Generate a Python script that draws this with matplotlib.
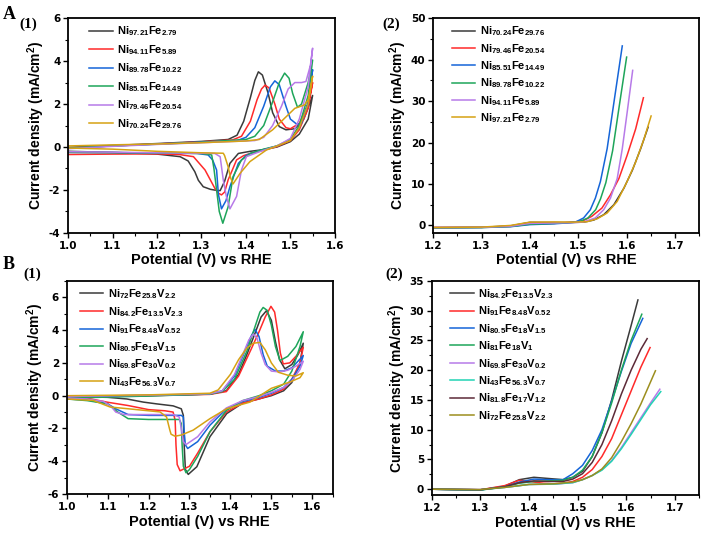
import matplotlib
matplotlib.use("Agg")
import matplotlib.pyplot as plt
from matplotlib.ticker import MultipleLocator

plt.rcParams['font.family'] = ['Liberation Sans', 'DejaVu Sans']
plt.rcParams['font.weight'] = 'bold'
plt.rcParams['mathtext.fontset'] = 'custom'
plt.rcParams['mathtext.rm'] = 'Liberation Sans:bold'
plt.rcParams['mathtext.it'] = 'Liberation Sans:bold'
plt.rcParams['mathtext.bf'] = 'Liberation Sans:bold'
plt.rcParams['mathtext.default'] = 'rm'
plt.rcParams['axes.unicode_minus'] = False

BLACK = '#3a3a3a'; RED = '#ff2a2a'; BLUE = '#1565d8'; GREEN = '#1ea55a'
PURPLE = '#b77ae8'; GOLD = '#d6a214'; CYAN = '#22d3b4'; BROWN = '#5c2a38'; OLIVE = '#9c8e1e'

# ---------------- Panel A(1): CV of NiFe ----------------
a1_labels = ['Ni$_{97.21}$Fe$_{2.79}$', 'Ni$_{94.11}$Fe$_{5.89}$', 'Ni$_{89.78}$Fe$_{10.22}$',
             'Ni$_{85.51}$Fe$_{14.49}$', 'Ni$_{79.46}$Fe$_{20.54}$', 'Ni$_{70.24}$Fe$_{29.76}$']
a1_colors = [BLACK, RED, BLUE, GREEN, PURPLE, GOLD]

a1_black_x = [1.00, 1.10, 1.20, 1.30, 1.36, 1.38, 1.395, 1.41, 1.42, 1.428, 1.437, 1.45, 1.46, 1.475, 1.49, 1.51, 1.53, 1.55,
              1.54, 1.52, 1.50, 1.47, 1.44, 1.41, 1.383, 1.364, 1.352, 1.342, 1.334, 1.32, 1.304, 1.293, 1.285, 1.27, 1.252, 1.20, 1.10, 1.00]
a1_black_y = [-0.02, 0.07, 0.16, 0.26, 0.35, 0.55, 1.2, 2.3, 3.1, 3.5, 3.35, 2.5, 1.6, 0.95, 0.8, 0.85, 1.3, 2.4,
              1.3, 0.6, 0.25, 0.0, -0.12, -0.2, -0.3, -0.76, -1.6, -2.03, -2.02, -1.97, -1.85, -1.55, -1.15, -0.65, -0.45, -0.33, -0.25, -0.2]

a1_red_x = [1.00, 1.10, 1.20, 1.30, 1.37, 1.39, 1.41, 1.425, 1.435, 1.443, 1.452, 1.465, 1.475, 1.49, 1.50, 1.52, 1.54, 1.55,
            1.54, 1.52, 1.50, 1.47, 1.44, 1.41, 1.395, 1.379, 1.36, 1.352, 1.345, 1.338, 1.33, 1.308, 1.282, 1.25, 1.20, 1.10, 1.00]
a1_red_y = [-0.05, 0.05, 0.14, 0.24, 0.33, 0.5, 1.2, 2.2, 2.7, 2.88, 2.75, 2.0, 1.3, 0.9, 0.85, 1.1, 2.0, 3.0,
            1.8, 0.8, 0.3, 0.02, -0.15, -0.3, -0.4, -0.6, -1.53, -2.1, -2.23, -2.15, -1.92, -1.07, -0.45, -0.35, -0.32, -0.33, -0.35]

a1_blue_x = [1.00, 1.10, 1.20, 1.30, 1.38, 1.40, 1.42, 1.44, 1.455, 1.465, 1.475, 1.49, 1.50, 1.515, 1.525, 1.54, 1.55,
             1.54, 1.52, 1.50, 1.47, 1.44, 1.41, 1.40, 1.383, 1.364, 1.355, 1.345, 1.338, 1.334, 1.325, 1.315, 1.29, 1.20, 1.10, 1.00]
a1_blue_y = [-0.05, 0.05, 0.14, 0.23, 0.3, 0.45, 0.9, 1.9, 2.8, 3.08, 2.9, 1.9, 1.3, 1.05, 1.1, 2.1, 3.6,
             2.0, 0.9, 0.35, 0.05, -0.12, -0.3, -0.4, -0.76, -1.85, -2.5, -2.88, -2.2, -1.07, -0.6, -0.37, -0.3, -0.28, -0.26, -0.25]

a1_green_x = [1.00, 1.10, 1.20, 1.30, 1.40, 1.42, 1.44, 1.46, 1.475, 1.487, 1.497, 1.505, 1.516, 1.525, 1.54, 1.55,
              1.54, 1.52, 1.50, 1.47, 1.44, 1.41, 1.39, 1.371, 1.36, 1.348, 1.34, 1.334, 1.328, 1.323, 1.30, 1.20, 1.10, 1.00]
a1_green_y = [-0.05, 0.05, 0.13, 0.22, 0.35, 0.5, 1.0, 2.1, 3.0, 3.44, 3.2, 2.5, 1.85, 2.0, 3.0, 4.05,
              2.4, 1.0, 0.35, 0.05, -0.1, -0.3, -0.6, -1.38, -2.78, -3.55, -3.0, -2.0, -1.0, -0.37, -0.3, -0.28, -0.26, -0.25]

a1_purple_x = [1.00, 1.10, 1.20, 1.30, 1.42, 1.44, 1.46, 1.48, 1.495, 1.51, 1.525, 1.535, 1.545, 1.55,
               1.54, 1.52, 1.50, 1.47, 1.44, 1.42, 1.401, 1.39, 1.379, 1.364, 1.356, 1.349, 1.342, 1.33, 1.20, 1.10, 1.00]
a1_purple_y = [-0.08, 0.03, 0.12, 0.2, 0.3, 0.45, 1.0, 1.9, 2.7, 3.0, 3.0, 3.05, 3.8, 4.6,
               2.8, 1.3, 0.4, 0.05, -0.15, -0.3, -0.45, -1.07, -2.3, -2.88, -2.3, -1.53, -0.45, -0.3, -0.27, -0.24, -0.22]

a1_gold_x = [1.00, 1.10, 1.20, 1.30, 1.40, 1.43, 1.46, 1.49, 1.51, 1.532, 1.54, 1.55,
             1.54, 1.52, 1.50, 1.47, 1.446, 1.409, 1.387, 1.371, 1.365, 1.36, 1.352, 1.349, 1.30, 1.20, 1.10, 1.00]
a1_gold_y = [0.05, 0.1, 0.14, 0.2, 0.28, 0.35, 0.8, 1.4, 1.8, 1.96, 2.2, 3.3,
             2.0, 0.9, 0.3, 0.05, -0.14, -0.68, -1.22, -1.72, -1.4, -0.92, -0.4, -0.29, -0.27, -0.2, -0.1, -0.05]

a1_x = [a1_black_x, a1_red_x, a1_blue_x, a1_green_x, a1_purple_x, a1_gold_x]
a1_y = [a1_black_y, a1_red_y, a1_blue_y, a1_green_y, a1_purple_y, a1_gold_y]

# ---------------- Panel A(2): LSV of NiFe ----------------
a2_labels = ['Ni$_{70.24}$Fe$_{29.76}$', 'Ni$_{79.46}$Fe$_{20.54}$', 'Ni$_{85.51}$Fe$_{14.49}$',
             'Ni$_{89.78}$Fe$_{10.22}$', 'Ni$_{94.11}$Fe$_{5.89}$', 'Ni$_{97.21}$Fe$_{2.79}$']
a2_colors = [BLACK, RED, BLUE, GREEN, PURPLE, GOLD]
a2_black_x = [1.20, 1.30, 1.36, 1.40, 1.44, 1.48, 1.511, 1.532, 1.5527, 1.5736, 1.5944, 1.6118, 1.629, 1.6444]
a2_black_y = [-0.5, -0.45, -0.1, 0.75, 0.7, 0.7, 0.8, 1.3, 2.6, 5.0, 9.0, 13.3, 18.5, 23.7]
a2_red_x = [1.20, 1.30, 1.36, 1.40, 1.45, 1.49, 1.511, 1.528, 1.549, 1.5666, 1.584, 1.601, 1.6187, 1.6347]
a2_red_y = [-0.5, -0.45, -0.2, 0.4, 0.5, 0.8, 1.2, 2.2, 4.2, 7.4, 11.3, 16.9, 23.3, 30.8]
a2_blue_x = [1.20, 1.30, 1.36, 1.40, 1.45, 1.475, 1.494, 1.511, 1.525, 1.5354, 1.5458, 1.5597, 1.5754, 1.591]
a2_blue_y = [-0.6, -0.5, -0.3, 0.2, 0.4, 0.6, 0.8, 1.8, 3.8, 6.6, 10.6, 18.5, 31.0, 43.3]
a2_green_x = [1.20, 1.30, 1.36, 1.40, 1.45, 1.48, 1.50, 1.52, 1.536, 1.546, 1.557, 1.571, 1.585, 1.600]
a2_green_y = [-0.55, -0.5, -0.25, 0.3, 0.5, 0.7, 0.8, 1.8, 3.8, 6.4, 10.3, 18.0, 29.0, 40.6]
a2_purple_x = [1.20, 1.30, 1.36, 1.40, 1.45, 1.49, 1.51, 1.535, 1.5527, 1.5666, 1.5805, 1.591, 1.601, 1.6125]
a2_purple_y = [-0.5, -0.45, -0.2, 0.5, 0.6, 0.7, 0.8, 1.8, 3.8, 6.6, 11.3, 18.5, 27.2, 37.4]
a2_gold_x = [1.20, 1.30, 1.36, 1.40, 1.45, 1.49, 1.518, 1.539, 1.5597, 1.5805, 1.601, 1.6187, 1.636, 1.6506]
a2_gold_y = [-0.5, -0.4, 0.0, 0.8, 0.85, 0.8, 0.9, 1.6, 3.0, 5.8, 10.6, 15.3, 20.9, 26.4]
a2_x = [a2_black_x, a2_red_x, a2_blue_x, a2_green_x, a2_purple_x, a2_gold_x]
a2_y = [a2_black_y, a2_red_y, a2_blue_y, a2_green_y, a2_purple_y, a2_gold_y]

# ---------------- Panel B(1): CV of NiFeV ----------------
b1_labels = ['Ni$_{72}$Fe$_{25.8}$V$_{2.2}$', 'Ni$_{84.2}$Fe$_{13.5}$V$_{2.3}$', 'Ni$_{91}$Fe$_{8.48}$V$_{0.52}$',
             'Ni$_{80.5}$Fe$_{18}$V$_{1.5}$', 'Ni$_{69.8}$Fe$_{30}$V$_{0.2}$', 'Ni$_{43}$Fe$_{56.3}$V$_{0.7}$']
b1_colors = [BLACK, RED, BLUE, GREEN, PURPLE, GOLD]

b1_black_x = [1.00, 1.20, 1.35, 1.39, 1.42, 1.44, 1.46, 1.475, 1.488, 1.50, 1.51, 1.52, 1.533, 1.55, 1.565, 1.578,
              1.57, 1.55, 1.53, 1.50, 1.472, 1.43, 1.391, 1.35, 1.318, 1.297, 1.29, 1.287, 1.285, 1.28, 1.26, 1.22, 1.187, 1.147, 1.10, 1.00]
b1_black_y = [-0.05, 0.02, 0.1, 0.3, 1.3, 2.5, 3.8, 4.8, 5.18, 4.6, 3.3, 2.2, 1.64, 1.9, 2.5, 3.2,
              2.0, 0.8, 0.3, 0.0, -0.18, -0.45, -1.09, -2.5, -4.33, -4.8, -4.5, -3.0, -1.2, -0.8, -0.62, -0.5, -0.39, -0.2, -0.1, -0.05]

b1_red_x = [1.00, 1.20, 1.35, 1.39, 1.42, 1.45, 1.47, 1.485, 1.499, 1.508, 1.515, 1.522, 1.529, 1.545, 1.56, 1.578,
            1.57, 1.55, 1.53, 1.50, 1.47, 1.43, 1.39, 1.35, 1.32, 1.30, 1.277, 1.27, 1.267, 1.265, 1.26, 1.24, 1.20, 1.15, 1.10, 1.05, 1.00]
b1_red_y = [-0.1, 0.0, 0.08, 0.25, 1.2, 2.8, 3.9, 4.8, 5.45, 5.1, 4.0, 2.6, 1.94, 2.0, 2.4, 2.95,
            2.0, 1.0, 0.4, 0.05, -0.2, -0.45, -1.0, -2.2, -3.5, -4.3, -4.58, -4.2, -3.0, -1.5, -1.0, -0.92, -0.85, -0.6, -0.4, -0.15, -0.1]

b1_blue_x = [1.00, 1.20, 1.35, 1.38, 1.41, 1.43, 1.45, 1.46, 1.47, 1.48, 1.49, 1.51, 1.53, 1.55, 1.565, 1.578,
             1.57, 1.55, 1.53, 1.50, 1.47, 1.43, 1.39, 1.35, 1.32, 1.2956, 1.29, 1.287, 1.285, 1.28, 1.25, 1.20, 1.15, 1.12, 1.10, 1.05, 1.00]
b1_blue_y = [-0.1, 0.0, 0.1, 0.3, 1.2, 2.4, 3.6, 4.05, 3.6, 2.5, 1.8, 1.5, 1.5, 1.7, 2.1, 2.45,
             1.8, 1.0, 0.5, 0.15, -0.1, -0.35, -0.8, -1.8, -2.8, -3.22, -3.0, -2.2, -1.3, -1.2, -1.2, -1.2, -1.15, -0.8, -0.5, -0.25, -0.2]

b1_green_x = [1.00, 1.20, 1.35, 1.38, 1.41, 1.44, 1.46, 1.472, 1.48, 1.49, 1.50, 1.51, 1.521, 1.54, 1.56, 1.578,
              1.57, 1.55, 1.53, 1.50, 1.47, 1.43, 1.39, 1.35, 1.32, 1.30, 1.2915, 1.285, 1.282, 1.28, 1.275, 1.25, 1.20, 1.15, 1.125, 1.10, 1.05, 1.00]
b1_green_y = [-0.15, -0.02, 0.1, 0.25, 1.0, 2.7, 4.2, 5.1, 5.38, 5.2, 4.3, 3.0, 2.14, 2.4, 3.0, 3.9,
              3.0, 1.5, 0.7, 0.3, 0.0, -0.3, -0.9, -2.2, -3.7, -4.5, -4.7, -4.3, -3.0, -1.7, -1.45, -1.45, -1.45, -1.4, -1.0, -0.5, -0.3, -0.2]

b1_purple_x = [1.00, 1.20, 1.35, 1.38, 1.41, 1.43, 1.445, 1.456, 1.465, 1.475, 1.485, 1.50, 1.52, 1.54, 1.56, 1.578,
               1.57, 1.55, 1.53, 1.50, 1.47, 1.43, 1.39, 1.35, 1.32, 1.2915, 1.285, 1.28, 1.275, 1.26, 1.20, 1.14, 1.12, 1.11, 1.09, 1.05, 1.00]
b1_purple_y = [-0.05, 0.03, 0.12, 0.3, 1.3, 2.5, 3.4, 3.76, 3.5, 2.6, 1.9, 1.5, 1.45, 1.55, 1.8, 2.1,
               1.6, 0.9, 0.5, 0.2, -0.05, -0.3, -0.75, -1.6, -2.5, -2.98, -2.8, -2.0, -1.3, -1.15, -1.15, -1.15, -1.0, -0.7, -0.35, -0.2, -0.15]

b1_gold_x = [1.00, 1.20, 1.35, 1.37, 1.40, 1.42, 1.44, 1.456, 1.472, 1.485, 1.50, 1.517, 1.54, 1.56, 1.578,
             1.57, 1.545, 1.50, 1.448, 1.391, 1.35, 1.309, 1.28, 1.2646, 1.255, 1.252, 1.244, 1.228, 1.147, 1.106, 1.065, 1.00]
b1_gold_y = [0.0, 0.05, 0.15, 0.35, 1.3, 2.2, 2.9, 3.2, 3.25, 2.8, 2.0, 1.43, 1.25, 1.2, 1.4,
             1.1, 0.83, 0.45, -0.39, -0.79, -1.4, -2.1, -2.4, -2.47, -2.35, -2.1, -1.3, -0.99, -0.79, -0.69, -0.29, -0.2]

b1_x = [b1_black_x, b1_red_x, b1_blue_x, b1_green_x, b1_purple_x, b1_gold_x]
b1_y = [b1_black_y, b1_red_y, b1_blue_y, b1_green_y, b1_purple_y, b1_gold_y]

# ---------------- Panel B(2): LSV of NiFeV ----------------
b2_labels = ['Ni$_{84.2}$Fe$_{13.5}$V$_{2.3}$', 'Ni$_{91}$Fe$_{8.48}$V$_{0.52}$', 'Ni$_{80.5}$Fe$_{18}$V$_{1.5}$',
             'Ni$_{81}$Fe$_{18}$V$_{1}$', 'Ni$_{69.8}$Fe$_{30}$V$_{0.2}$', 'Ni$_{43}$Fe$_{56.3}$V$_{0.7}$',
             'Ni$_{81.8}$Fe$_{17}$V$_{1.2}$', 'Ni$_{72}$Fe$_{25.8}$V$_{2.2}$']
b2_colors = [BLACK, RED, BLUE, GREEN, PURPLE, CYAN, BROWN, OLIVE]
b2_black_x = [1.20, 1.30, 1.35, 1.38, 1.41, 1.44, 1.47, 1.49, 1.51, 1.53, 1.55, 1.57, 1.59, 1.61, 1.624]
b2_black_y = [0.0, -0.1, 0.5, 1.6, 2.0, 1.8, 1.6, 2.0, 3.0, 5.5, 9.5, 15.0, 21.5, 27.5, 31.8]
b2_red_x = [1.20, 1.30, 1.35, 1.38, 1.40, 1.43, 1.45, 1.47, 1.49, 1.51, 1.53, 1.55, 1.57, 1.59, 1.61, 1.63, 1.649]
b2_red_y = [0.0, -0.1, 0.6, 1.5, 1.3, 1.0, 0.9, 1.0, 1.3, 2.0, 3.3, 5.5, 8.5, 12.5, 16.5, 20.5, 23.8]
b2_blue_x = [1.20, 1.30, 1.35, 1.38, 1.41, 1.44, 1.47, 1.49, 1.51, 1.53, 1.55, 1.57, 1.59, 1.61, 1.634]
b2_blue_y = [0.0, -0.1, 0.4, 1.2, 1.7, 1.6, 1.6, 2.6, 4.0, 6.5, 10.0, 14.8, 19.8, 24.5, 28.7]
b2_green_x = [1.20, 1.30, 1.35, 1.38, 1.41, 1.44, 1.47, 1.49, 1.51, 1.53, 1.55, 1.57, 1.59, 1.61, 1.632]
b2_green_y = [0.0, -0.15, 0.4, 1.0, 1.3, 1.4, 1.5, 2.0, 3.2, 5.5, 9.5, 14.5, 20.0, 25.0, 29.4]
b2_purple_x = [1.20, 1.30, 1.35, 1.40, 1.45, 1.49, 1.51, 1.53, 1.55, 1.57, 1.59, 1.61, 1.63, 1.65, 1.669]
b2_purple_y = [0.0, -0.05, 0.3, 0.8, 0.85, 1.1, 1.6, 2.3, 3.3, 4.8, 7.0, 9.5, 12.0, 14.5, 16.8]
b2_cyan_x = [1.20, 1.30, 1.35, 1.40, 1.45, 1.49, 1.51, 1.53, 1.55, 1.57, 1.59, 1.61, 1.63, 1.65, 1.671]
b2_cyan_y = [0.0, -0.1, 0.3, 0.8, 0.85, 1.1, 1.6, 2.3, 3.2, 4.7, 6.8, 9.2, 11.7, 14.2, 16.4]
b2_brown_x = [1.20, 1.30, 1.35, 1.38, 1.41, 1.44, 1.47, 1.49, 1.51, 1.53, 1.55, 1.57, 1.59, 1.61, 1.63, 1.643]
b2_brown_y = [0.0, -0.1, 0.4, 1.1, 1.4, 1.3, 1.3, 1.7, 2.6, 4.5, 7.5, 11.5, 16.0, 20.0, 23.5, 25.3]
b2_olive_x = [1.20, 1.30, 1.35, 1.40, 1.45, 1.49, 1.51, 1.53, 1.55, 1.57, 1.59, 1.61, 1.63, 1.66]
b2_olive_y = [0.0, -0.05, 0.3, 0.8, 0.9, 1.2, 1.6, 2.3, 3.4, 5.3, 8.0, 11.0, 14.3, 19.9]
b2_x = [b2_black_x, b2_red_x, b2_blue_x, b2_green_x, b2_purple_x, b2_cyan_x, b2_brown_x, b2_olive_x]
b2_y = [b2_black_y, b2_red_y, b2_blue_y, b2_green_y, b2_purple_y, b2_cyan_y, b2_brown_y, b2_olive_y]

XLABEL = 'Potential (V) vs RHE'
YLABEL = 'Current density (mA/cm$^{2}$)'

fig = plt.figure(figsize=(7.02, 5.33), dpi=100)


def style(ax, xlim, ylim, xticks, ymaj, yfmt):
    ax.set_xlim(*xlim)
    ax.set_ylim(*ylim)
    ax.set_xticks(xticks)
    ax.set_xticklabels(['%.1f' % v for v in xticks])
    ax.xaxis.set_minor_locator(MultipleLocator(0.05))
    ax.yaxis.set_major_locator(MultipleLocator(ymaj))
    ax.yaxis.set_minor_locator(MultipleLocator(ymaj / 2))
    ax.yaxis.set_major_formatter(yfmt)
    for s in ax.spines.values():
        s.set_linewidth(1.3)
    ax.tick_params(which='major', direction='out', length=3.5, width=1.0, labelsize=7.5, pad=2)
    ax.tick_params(which='minor', direction='out', length=2, width=0.8)
    for lab in ax.get_xticklabels() + ax.get_yticklabels():
        lab.set_fontweight('bold')
        lab.set_family(['DejaVu Sans'])
    ax.set_xlabel(XLABEL, fontsize=10.5, fontweight='bold', labelpad=2)
    ax.set_ylabel(YLABEL, fontsize=10, fontweight='bold', labelpad=1)


def legend(ax, anchor, spacing):
    ax.legend(loc='upper left', bbox_to_anchor=anchor, frameon=False, fontsize=8,
              handlelength=2.1, handletextpad=0.4, labelspacing=spacing, borderpad=0, borderaxespad=0)


fmt_int = '{x:.0f}'

axA1 = fig.add_axes([0.097, 0.563, 0.380, 0.403])
for xs, ys, c, lab in zip(a1_x, a1_y, a1_colors, a1_labels):
    axA1.plot(xs, ys, color=c, lw=1.1, label=lab)
style(axA1, (1.0, 1.6), (-4, 6), [1.0, 1.1, 1.2, 1.3, 1.4, 1.5, 1.6], 2, fmt_int)
legend(axA1, (0.08, 0.97), 0.42)

axA2 = fig.add_axes([0.617, 0.563, 0.379, 0.403])
for xs, ys, c, lab in zip(a2_x, a2_y, a2_colors, a2_labels):
    axA2.plot(xs, ys, color=c, lw=1.1, label=lab)
style(axA2, (1.2, 1.75), (-1.8, 50), [1.2, 1.3, 1.4, 1.5, 1.6, 1.7], 10, fmt_int)
legend(axA2, (0.07, 0.97), 0.32)

axB1 = fig.add_axes([0.095, 0.073, 0.379, 0.400])
for xs, ys, c, lab in zip(b1_x, b1_y, b1_colors, b1_labels):
    axB1.plot(xs, ys, color=c, lw=1.1, label=lab)
style(axB1, (1.0, 1.65), (-6, 7), [1.0, 1.1, 1.2, 1.3, 1.4, 1.5, 1.6], 2, fmt_int)
legend(axB1, (0.05, 0.97), 0.34)

axB2 = fig.add_axes([0.615, 0.071, 0.381, 0.402])
for xs, ys, c, lab in zip(b2_x, b2_y, b2_colors, b2_labels):
    axB2.plot(xs, ys, color=c, lw=1.1, label=lab)
style(axB2, (1.2, 1.75), (-1, 35), [1.2, 1.3, 1.4, 1.5, 1.6, 1.7], 5, fmt_int)
legend(axB2, (0.07, 0.97), 0.32)

serif = ['Liberation Serif', 'DejaVu Serif']
fig.text(0.004, 0.972, 'A', fontsize=13, fontweight='bold', family=serif, va='center')
fig.text(0.028, 0.955, '(1)', fontsize=11, fontweight='bold', family=serif, va='center')
fig.text(0.545, 0.955, '(2)', fontsize=11, fontweight='bold', family=serif, va='center')
fig.text(0.004, 0.503, 'B', fontsize=13, fontweight='bold', family=serif, va='center')
fig.text(0.034, 0.485, '(1)', fontsize=11, fontweight='bold', family=serif, va='center')
fig.text(0.549, 0.485, '(2)', fontsize=11, fontweight='bold', family=serif, va='center')

fig.savefig('out.png', dpi=100)
